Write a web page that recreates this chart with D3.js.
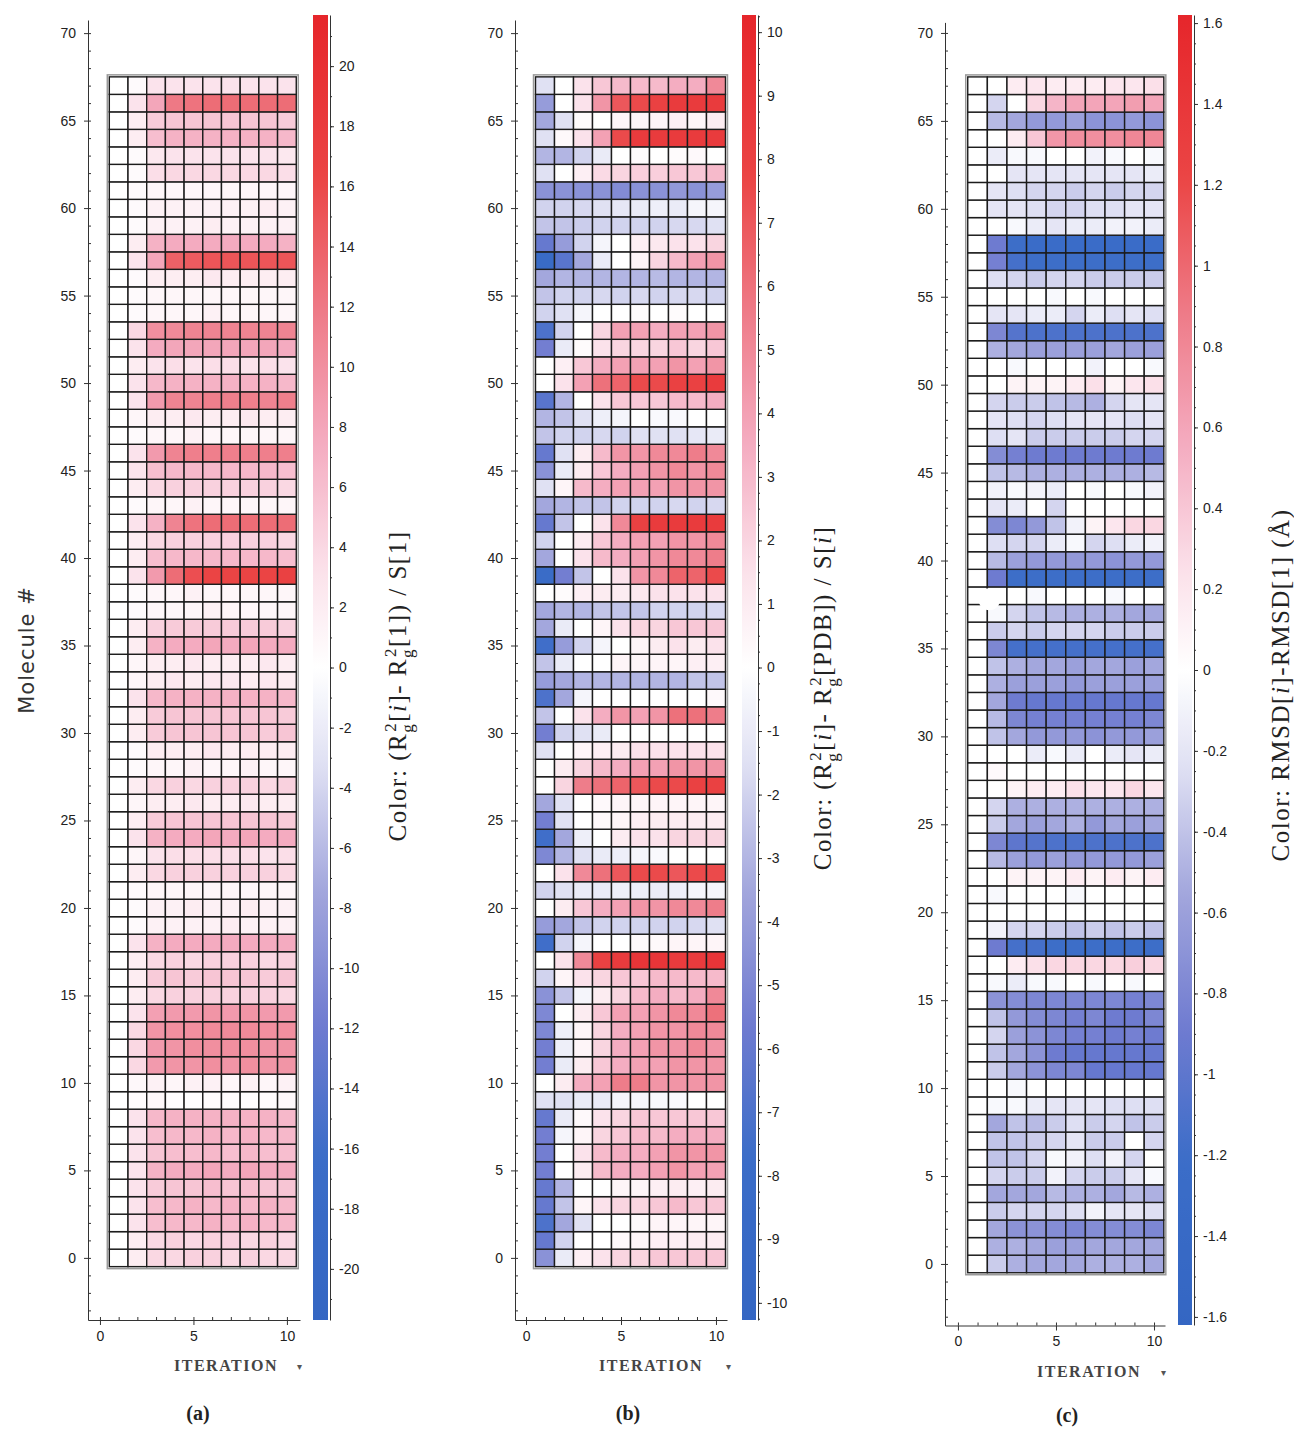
<!DOCTYPE html>
<html>
<head>
<meta charset="utf-8">
<script src="https://cdn.jsdelivr.net/npm/d3@7"></script>
<style>
body { margin: 0; background: #fff; }
svg text { fill: #222; }
.tick text { font-family: "Liberation Sans Narrow", "Liberation Sans", Arial, sans-serif; font-size: 14px; fill: #222; }
.domain, .tick line { stroke: #333; }
</style>
</head>
<body>
<svg id="chart" width="1294" height="1429"></svg>
<script>
// categories
var iterations = [1, 2, 3, 4, 5, 6, 7, 8, 9, 10];
var molecules = d3.range(0, 68);

// tick labels
var moleculeTicks = [0, 5, 10, 15, 20, 25, 30, 35, 40, 45, 50, 55, 60, 65, 70];
var iterationTicks = [0, 5, 10];
var rgSelfTicks = [-20, -18, -16, -14, -12, -10, -8, -6, -4, -2, 0, 2, 4, 6, 8, 10, 12, 14, 16, 18, 20];
var rgPdbTicks = [-10, -9, -8, -7, -6, -5, -4, -3, -2, -1, 0, 1, 2, 3, 4, 5, 6, 7, 8, 9, 10];
var rmsdTicks = [-1.6, -1.4, -1.2, -1, -0.8, -0.6, -0.4, -0.2, 0, 0.2, 0.4, 0.6, 0.8, 1, 1.2, 1.4, 1.6];

// (a) (Rg^2[i] - Rg^2[1]) / S[1], one row per molecule 0..67, columns = iteration 1..10
var rgSelf = [
  [0, 2, 4, 4, 4.5, 4.5, 4, 4.5, 4, 4],
  [0, 2, 4, 4.5, 4, 4.5, 4.5, 4, 4.5, 4],
  [0, 3, 6, 6.5, 6.5, 7, 6.5, 7, 6.5, 6.5],
  [0, 3, 6, 6.5, 7, 6.5, 7, 6.5, 7, 6.5],
  [0, 3, 5, 5.5, 5.5, 6, 5.5, 6, 5.5, 5.5],
  [0, 3, 7, 7.5, 7.5, 8, 7.5, 8, 7.5, 7.5],
  [0, 3, 5.5, 6, 6, 6.5, 6, 6.5, 6, 6],
  [0, 3, 6, 6.5, 6.5, 7, 6.5, 7, 6.5, 6.5],
  [0, 3, 6.5, 7, 7, 7, 7, 7, 7, 6.5],
  [0, 0.3, 0.8, 0.2, 0.2, 0.3, 0.3, 0.2, 0.3, 0.8],
  [0, 0.8, 1.5, 1, 1.5, 1.5, 1, 1.5, 1, 1.5],
  [0, 4, 9, 9.5, 9.5, 10, 9.5, 10, 9.5, 9.5],
  [0, 4, 9, 9.5, 10, 10, 10, 10, 9.5, 9.5],
  [0, 4, 9.5, 10, 10, 10.5, 10.5, 10.5, 10, 10],
  [0, 3, 8.5, 9, 9, 9.5, 9, 9.5, 9, 9],
  [0, 2, 4, 4.5, 4.5, 4.5, 4.5, 4.5, 4.5, 4],
  [0, 2, 5, 5.5, 5, 5.5, 5.5, 5.5, 5, 5.5],
  [0, 2, 4, 4.5, 4, 4.5, 4.5, 4.5, 4, 4.5],
  [0, 3, 7, 7.5, 7.5, 7.5, 7.5, 7.5, 7.5, 7.5],
  [0, 0.5, 1.5, 1.5, 1.5, 1.5, 2, 1.5, 1.5, 1.5],
  [0, 0.5, 1.5, 1.5, 2, 1.5, 1.5, 2, 1.5, 1.5],
  [0, 0.5, 1, 1, 1, 1, 1, 1, 1, 1],
  [0, 2, 4, 4.5, 4.5, 4.5, 4.5, 4.5, 4.5, 4],
  [0, 1, 3, 3.5, 3.5, 3.5, 3.5, 3.5, 3, 3.5],
  [0, 3, 7, 7.5, 7.5, 8, 7.5, 8, 7.5, 7.5],
  [0, 2, 5, 5.5, 5.5, 5.5, 5.5, 5.5, 5.5, 5],
  [0, 1, 2, 2, 2.5, 2, 2, 2.5, 2, 2],
  [0, 2, 4, 4.5, 4, 4.5, 4.5, 4.5, 4, 4.5],
  [0, 0.5, 1, 1, 1.5, 1, 1, 1.5, 1, 1],
  [0, 0.5, 2, 2, 2, 2.5, 2, 2, 2, 2],
  [0, 2, 5, 5.5, 5.5, 5.5, 5.5, 5.5, 5, 5.5],
  [0, 2, 5, 5.5, 5.5, 5.5, 5.5, 5.5, 5.5, 5],
  [0, 3, 6.5, 7, 7, 7, 7, 7, 7, 6.5],
  [0, 1, 2, 2.5, 2, 2.5, 2.5, 2, 2.5, 2],
  [0, 1, 2, 2, 2.5, 2, 2, 2, 2.5, 2],
  [0, 2, 7, 7.5, 7.5, 8, 7.5, 8, 7.5, 7.5],
  [0, 2, 4.5, 5, 5, 5, 5, 5, 5, 4.5],
  [0, 0.5, 1, 1, 1, 1.5, 1, 1, 1, 1],
  [0, 0.5, 1, 1, 1.5, 1, 1, 1, 1, 1],
  [0, 3, 9, 13, 15.5, 16.5, 16.5, 16.5, 16.5, 17],
  [0, 2, 6, 6.5, 6.5, 6.5, 6.5, 6.5, 6.5, 6],
  [0, 2, 4, 4.5, 4.5, 4.5, 4.5, 4.5, 4.5, 4],
  [0, 3, 7, 11, 12.5, 13, 13, 13, 13, 13],
  [0, 0.5, 1, 1, 1.5, 1, 1, 1, 1, 1],
  [0, 2, 4, 4.5, 4.5, 4.5, 4.5, 4.5, 4.5, 4],
  [0, 3, 6, 6.5, 6.5, 6.5, 6.5, 6.5, 6.5, 6],
  [0, 3, 9, 11, 11.5, 11.5, 11.5, 11.5, 11.5, 11.5],
  [0, 0.5, 1, 1, 1.5, 1, 1, 1, 1, 1],
  [0, 1, 2, 2, 2.5, 2, 2, 2.5, 2, 2],
  [0, 3, 9, 11, 11, 11.5, 11.5, 11.5, 11, 11.5],
  [0, 3, 6.5, 7, 7, 7, 7, 7, 7, 6.5],
  [0, 2, 3, 3.5, 3, 3.5, 3.5, 3, 3.5, 3],
  [0, 3, 7.5, 8, 8, 8, 8, 8, 8, 7.5],
  [0, 4, 10, 10.5, 11, 11, 11, 11, 11, 11],
  [0, 0.5, 1, 1, 1, 1.5, 1, 1, 1, 1],
  [0, 0.5, 1, 1, 1, 1, 1, 1, 1, 1],
  [0, 0.5, 2, 2, 2, 2.5, 2, 2, 2, 2],
  [0, 3, 8, 14, 14.5, 15, 15, 15, 15, 15],
  [0, 2, 7, 7.5, 7.5, 7.5, 7.5, 7.5, 7.5, 7],
  [0, 0.5, 1.5, 1.5, 1.5, 2, 1.5, 1.5, 1.5, 1.5],
  [0, 0.5, 1.5, 1.5, 1.5, 1.5, 1.5, 1.5, 2, 1.5],
  [0, 0.5, 1, 1, 1, 1, 1, 1, 1, 1],
  [0, 0.5, 3.5, 4, 4, 4, 4, 4, 4, 3.5],
  [0, 0.5, 2.5, 3, 3, 3, 3, 3, 3, 2.5],
  [0, 2, 6, 7, 7, 7, 7, 7, 7, 6.5],
  [0, 2, 5, 5.5, 5.5, 5.5, 5.5, 5.5, 5.5, 5],
  [0, 3, 8, 12, 12.5, 13, 13, 13, 13, 13],
  [0, 0.5, 3, 3, 3, 3, 3, 3, 3, 3]
];

// (b) (Rg^2[i] - Rg^2[PDB]) / S[i]
var rgPdb = [
  [-4.5, -1, 0.8, 1.5, 2, 2, 2.5, 2.5, 2.5, 2.5],
  [-6, -2, 0, 0, 0.3, 0.5, 0.8, 0.8, 1, 1],
  [-7, -3.5, -1.5, 0, 0, 0.3, 0.5, 0.5, 0.5, 0.5],
  [-6, -2.5, 0.5, 1.5, 2, 2, 2.5, 3, 2.5, 2.5],
  [-6, -3, 0, 0, 0.5, 0.5, 0.8, 1, 0.8, 1],
  [-5.5, 0, 1, 3, 3.5, 3.5, 4, 4.5, 4, 4],
  [-5.5, 0, 1.5, 3, 3.5, 3.5, 4, 4.5, 4.5, 4.5],
  [-5.5, -0.5, 0.5, 2, 2.5, 3, 3, 3.5, 3.5, 3.5],
  [-6, -1, 0.3, 1.5, 2, 2.5, 2.5, 2.5, 2.5, 2.5],
  [-1.5, -1.5, -1, -1, -0.5, -0.5, -0.3, -0.3, 0, 0],
  [0, 1, 3.5, 4, 5.5, 5.5, 4.5, 4.5, 4.5, 4.5],
  [-5.5, -1, 1, 2.5, 3.5, 4, 4, 4.5, 4.5, 4.5],
  [-5.5, -0.8, 0.5, 2, 3.5, 4, 4.5, 4.5, 5, 4.5],
  [-5, -0.8, 0.5, 2, 3.5, 4, 4.5, 4.5, 5, 5],
  [-5, 0, 1, 2.5, 4, 4, 4.5, 5, 5, 6],
  [-4.5, -2.5, -0.5, 1, 2, 3, 3.5, 3, 3.5, 5],
  [-2, 0.5, 1.5, 2, 2.5, 2.5, 3, 3, 3, 3],
  [0, 1.5, 5, 8, 8.5, 9, 9, 8.5, 8.5, 9],
  [-7.5, -2, -0.5, 0, 0, 0.3, 0.3, 0.5, 0.5, 0.5],
  [-4, -3.5, -2.5, -2, -2, -2, -2, -2, -1.8, -1.5],
  [0, 1, 2.5, 3.5, 4, 4.5, 4.5, 5, 5, 5.5],
  [-2, -1.5, -1, -1, -0.8, -0.8, -1, -0.8, -0.5, -0.5],
  [0, 1.5, 5, 6, 7, 7.5, 7.5, 7, 7.5, 7.5],
  [-5, -3, -1.5, -1, -0.8, -0.5, -0.3, 0, 0, 0],
  [-7.5, -3.5, -0.8, 0, 1, 1.5, 1.5, 2, 2, 2],
  [-5.5, -1.5, 0, 0.3, 0.5, 0.8, 1, 1, 1, 1],
  [-3.5, -1.5, 0, 0.3, 0.5, 0.5, 0.5, 0.5, 0.5, 0.5],
  [0, 2, 5.5, 6, 6.5, 7, 7.5, 7.5, 8, 8],
  [0, 1, 2, 3, 3.5, 4, 4, 4.5, 4.5, 4.5],
  [-1.5, 0, 0.5, 0.8, 1, 1.5, 1.5, 1.5, 1.5, 1.5],
  [-5.5, -2, -1.5, -1, 0, 0, 0, 0, 0, 0],
  [-2.5, 0, 1.5, 3.5, 4.5, 4, 4.5, 6, 6, 5.5],
  [-7, -3.5, -0.5, 0, 0, 0, 0, 0, 0, 0.3],
  [-4, -3.5, -3, -3, -3, -3, -3, -3, -2.5, -2.5],
  [-2.5, -1, 0, 0, 0.5, 0.5, 0.5, 0.5, 0.8, 0.8],
  [-7.5, -4, -2, -0.5, 0, 0.5, 1, 1.5, 1, 1.5],
  [-3.5, -1, 0, 0.5, 1.5, 2, 2, 2.5, 2.5, 2.5],
  [-3.5, -3, -3, -2.5, -2.5, -2.5, -2, -2, -2, -1.8],
  [0, 0.2, 0.8, 1, 1, 1.2, 1.5, 1.5, 1.5, 1.5],
  [-8, -5.5, -2.5, 0, 1.5, 4.5, 5, 6.5, 6.5, 7.5],
  [-3.5, 0, 1.5, 3, 3.5, 4, 4.5, 5, 5, 5.5],
  [-2, 0, 1, 2.5, 3.5, 4, 4, 4.5, 4.5, 5],
  [-6, -2.5, 0, 1.5, 5, 8, 8.5, 8.5, 8.5, 8.5],
  [-3.5, -3, -2.5, -2.5, -2, -2, -2, -1.8, -2, -1.8],
  [-1.5, 0.5, 3, 3.5, 4, 4, 4, 4.5, 4.5, 4.5],
  [-4.5, -1, 1, 2.5, 3.5, 4, 4.5, 5, 4.5, 5],
  [-6, -1.5, 1, 3, 4.5, 4.5, 5, 5, 5.5, 5],
  [-2.5, -2, -2, -1.8, -2, -1.5, -1.5, -1.5, -1.2, -1],
  [-3, -2.5, -1.5, -0.8, -0.5, 0, -0.3, -0.3, 0, 0],
  [-6.5, -3, 0, 1.5, 2.5, 2.5, 2.5, 3, 3, 3.5],
  [0, 1.5, 4, 6, 6.5, 7.5, 7.5, 8, 8, 8.5],
  [0, 0.8, 2.5, 3.5, 4, 4, 4, 4.5, 4, 4.5],
  [-5.5, -1, 0.2, 1.5, 2, 2, 2, 2.5, 2, 2.5],
  [-7, -2, 0, 2, 4, 4, 3.5, 4, 4, 4.5],
  [-2, -1.5, -0.5, 0, 0, 0.2, 0, 0.2, 0, 0],
  [-2.5, -2, -2, -1.8, -2, -1.8, -2, -1.8, -1.8, -2],
  [-3.5, -3, -3, -3, -3, -3, -2.8, -3, -3, -3],
  [-8.5, -6.5, -3.5, -1, 0, 0.5, 2, 3, 4, 4.5],
  [-6, -4, -2, -0.5, 0, 0.8, 1.2, 1.5, 1.5, 2],
  [-2.5, -2.5, -2.2, -2, -2, -2, -2, -1.8, -1.8, -1.5],
  [-2, -2, -1.8, -1.5, -1.2, -1, -0.8, -1, -0.5, -0.5],
  [-4.5, -4.5, -4.5, -4.5, -4.8, -4.5, -4.5, -4.2, -4.5, -4],
  [-1.5, 0, 0.8, 1.8, 2, 2.2, 2.2, 2.5, 2.5, 3],
  [-3, -3, -2, -1, 0, 0.2, 0, 0.2, 0.3, 0],
  [-1.5, 0.3, 1.5, 4, 7.5, 8.5, 8.5, 8.5, 8.5, 8.5],
  [-3.5, -1.5, 0.2, 0, 0.5, 0.5, 0.5, 0.8, 0.5, 1],
  [-4, 0, 1.5, 4.5, 7, 7.5, 8, 8.5, 8.5, 8.5],
  [-1.5, 0, 1.5, 2.5, 3, 3, 3, 3.5, 3.5, 5]
];

// (c) RMSD[i] - RMSD[1] (Angstrom)
var rmsdDiff = [
  [0, -0.35, -0.5, -0.55, -0.55, -0.55, -0.5, -0.5, -0.5, -0.55],
  [0, -0.5, -0.5, -0.55, -0.6, -0.6, -0.55, -0.55, -0.55, -0.55],
  [0, -0.55, -0.7, -0.7, -0.75, -0.8, -0.75, -0.75, -0.75, -0.8],
  [0, -0.35, -0.3, -0.3, -0.3, -0.25, -0.1, -0.2, -0.2, -0.25],
  [0, -0.55, -0.55, -0.55, -0.45, -0.5, -0.5, -0.55, -0.45, -0.5],
  [0, -0.3, -0.35, -0.35, -0.1, -0.3, -0.35, -0.35, -0.2, -0.05],
  [0, -0.4, -0.4, -0.3, -0.05, -0.1, -0.25, -0.1, -0.3, 0],
  [0, -0.4, -0.4, -0.35, -0.3, -0.2, -0.35, -0.35, 0, -0.3],
  [0, -0.55, -0.4, -0.45, -0.35, -0.25, -0.35, -0.3, -0.4, -0.35],
  [0, -0.05, -0.05, -0.15, -0.2, -0.2, -0.2, -0.25, -0.25, -0.25],
  [0, 0, -0.05, 0, 0, 0, 0, 0, 0, 0],
  [0, -0.35, -0.55, -0.7, -0.8, -0.8, -0.95, -0.95, -0.95, -0.95],
  [0, -0.4, -0.55, -0.7, -0.9, -0.95, -0.95, -0.95, -0.95, -0.95],
  [0, -0.3, -0.6, -0.7, -0.8, -0.85, -0.85, -0.9, -0.85, -0.9],
  [0, -0.4, -0.65, -0.75, -0.8, -0.85, -0.8, -0.9, -0.9, -0.8],
  [0, -0.7, -0.75, -0.8, -0.8, -0.8, -0.8, -0.8, -0.85, -0.8],
  [0, -0.05, -0.15, -0.05, -0.05, 0, -0.05, 0, -0.05, 0],
  [0, 0, 0.15, 0.25, 0.3, 0.3, 0.3, 0.3, 0.35, 0.3],
  [0, -0.9, -1.15, -1.15, -1.2, -1.2, -1.2, -1.2, -1.2, -1.2],
  [0, -0.1, -0.3, -0.3, -0.35, -0.4, -0.35, -0.4, -0.35, -0.4],
  [0, 0, 0, 0, 0, 0, 0, 0, 0, 0],
  [0, -0.05, 0, 0, 0, -0.05, 0, 0, 0, 0],
  [0, 0, 0.1, 0.1, 0.1, 0.15, 0.1, 0.15, 0.1, 0.15],
  [0, -0.45, -0.6, -0.65, -0.6, -0.65, -0.65, -0.65, -0.65, -0.6],
  [0, -0.8, -1.0, -1.05, -1.1, -1.1, -1.1, -1.1, -1.1, -1.1],
  [0, -0.35, -0.55, -0.6, -0.55, -0.5, -0.65, -0.55, -0.6, -0.55],
  [0, -0.3, -0.5, -0.5, -0.5, -0.5, -0.5, -0.5, -0.5, -0.5],
  [0, 0, 0.1, 0.15, 0.15, 0.25, 0.2, 0.2, 0.3, 0.2],
  [0, 0.05, 0, 0, 0, 0, 0, 0, 0, 0],
  [0, 0, 0, -0.15, -0.05, -0.15, 0, -0.15, -0.2, -0.15],
  [0, -0.4, -0.55, -0.65, -0.65, -0.65, -0.7, -0.65, -0.65, -0.6],
  [0, -0.45, -0.8, -0.85, -0.85, -0.85, -0.85, -0.85, -0.85, -0.8],
  [0, -0.55, -0.9, -0.95, -0.95, -0.95, -0.95, -0.95, -0.95, -0.95],
  [0, -0.5, -0.6, -0.6, -0.6, -0.65, -0.6, -0.6, -0.6, -0.6],
  [0, -0.4, -0.5, -0.55, -0.55, -0.6, -0.55, -0.55, -0.6, -0.55],
  [0, -0.8, -1.15, -1.15, -1.15, -1.15, -1.15, -1.15, -1.15, -1.15],
  [0, -0.35, -0.3, -0.35, -0.3, -0.3, -0.3, -0.35, -0.35, -0.35],
  [0, -0.05, -0.3, -0.4, -0.45, -0.5, -0.5, -0.5, -0.55, -0.55],
  [0, 0, 0, -0.05, 0, 0, 0, -0.05, 0, 0],
  [0, -0.9, -1.2, -1.2, -1.2, -1.2, -1.2, -1.2, -1.2, -1.2],
  [0, -0.45, -0.6, -0.65, -0.65, -0.65, -0.65, -0.7, -0.65, -0.65],
  [0, -0.25, -0.3, -0.3, -0.15, -0.05, -0.3, -0.25, -0.15, -0.1],
  [0, -0.75, -0.8, -0.65, -0.4, -0.1, 0.1, 0.2, 0.3, 0.3],
  [0, -0.2, -0.15, 0, -0.3, 0, 0, 0, 0, 0],
  [0, -0.1, -0.05, -0.1, -0.15, 0, -0.05, 0, -0.05, -0.1],
  [0, -0.4, -0.45, -0.5, -0.5, -0.5, -0.5, -0.5, -0.5, -0.45],
  [0, -0.75, -0.85, -0.9, -0.9, -0.9, -0.9, -0.9, -0.9, -0.9],
  [0, -0.25, -0.2, -0.35, -0.35, -0.35, -0.35, -0.35, -0.3, -0.3],
  [0, -0.2, -0.25, -0.3, -0.25, -0.2, -0.2, -0.2, -0.25, -0.2],
  [0, -0.3, -0.35, -0.35, -0.4, -0.45, -0.5, -0.3, -0.2, -0.2],
  [0, 0, 0.1, 0.1, 0.1, 0.15, 0.25, 0.1, 0.2, 0.25],
  [0, 0, -0.05, 0, 0, 0, -0.1, 0, 0, -0.05],
  [0, -0.5, -0.55, -0.6, -0.6, -0.6, -0.6, -0.55, -0.6, -0.6],
  [0, -0.8, -1.05, -1.1, -1.1, -1.1, -1.1, -1.1, -1.1, -1.1],
  [0, -0.2, -0.2, -0.15, -0.15, -0.3, -0.15, -0.25, -0.2, -0.25],
  [0, 0, 0, 0, -0.05, 0, -0.05, 0, 0, 0],
  [0, -0.25, -0.3, -0.35, -0.3, -0.3, -0.35, -0.35, -0.35, -0.35],
  [0, -0.85, -1.15, -1.2, -1.2, -1.2, -1.2, -1.2, -1.2, -1.2],
  [0, -0.9, -1.2, -1.25, -1.25, -1.25, -1.25, -1.25, -1.25, -1.25],
  [0, 0, -0.05, -0.15, -0.2, -0.15, -0.15, -0.1, -0.1, -0.15],
  [0, -0.2, -0.2, -0.25, -0.3, -0.3, -0.25, -0.25, -0.2, -0.2],
  [0, -0.2, -0.25, -0.3, -0.3, -0.35, -0.3, -0.35, -0.3, -0.3],
  [0, 0, -0.2, -0.2, -0.2, -0.2, -0.2, -0.2, -0.2, -0.15],
  [0, -0.15, -0.05, -0.05, 0, 0, -0.1, -0.05, 0, -0.05],
  [0, 0, 0.15, 0.4, 0.7, 0.75, 0.75, 0.75, 0.8, 0.8],
  [0, -0.45, -0.55, -0.65, -0.65, -0.6, -0.7, -0.7, -0.65, -0.7],
  [0, -0.3, 0, 0.3, 0.5, 0.6, 0.6, 0.6, 0.65, 0.6],
  [0, 0, 0.15, 0.2, 0.15, 0.15, 0.15, 0.2, 0.2, 0.25]
];

// selection marker seen in panel (c)
var selIteration = [1.6];
var selMolecule = [37.8];

// diverging palette, stops as fraction of the colour range
var stopT = [0, 0.15, 0.35, 0.55, 0.75, 1];
var redStops = ["#ffffff", "#fbe1ea", "#f4aabf", "#ee7a86", "#eb4545", "#e6262b"];
var blueStops = ["#ffffff", "#dfe0f3", "#a0a4dc", "#6f7bd0", "#3b6dc8", "#3466c3"];

function makeColor(max) {
  var pos = d3.scaleLinear().domain(stopT.map(function(t) { return t * max; })).range(redStops).clamp(true);
  var neg = d3.scaleLinear().domain(stopT.map(function(t) { return -t * max; })).range(blueStops).clamp(true);
  return function(v) { return v >= 0 ? pos(v) : neg(v); };
}

var svg = d3.select("#chart");
svg.append("rect").attr("width", 1294).attr("height", 1429).attr("fill", "#fff");
var defs = svg.append("defs");

var serif = "'Liberation Serif', 'DejaVu Serif', Times, serif";

var panels = [
  { id: "a", values: rgSelf, cmax: 21.7, cTicks: rgSelfTicks, cMinor: 1,
    x0: 88, x1: 300, xd: [-0.64, 10.7], y0: 1320, y1: 20, yd: [-3.55, 70.75],
    cbX: 313, cbW: 15, cbY0: 1320, cbY1: 15,
    titleX: 406, titleY: 686, title: ["Color:  (R", "g", "2", "[", "i", "]- R", "g", "2", "[1]) / S[1]"],
    iterX: 226, iterY: 1371, arrowX: 299, capX: 198, capY: 1420 },
  { id: "b", values: rgPdb, cmax: 10.27, cTicks: rgPdbTicks, cMinor: 0.25,
    x0: 515, x1: 727, xd: [-0.58, 10.58], y0: 1320, y1: 20, yd: [-3.55, 70.75],
    cbX: 742, cbW: 14, cbY0: 1320, cbY1: 15,
    titleX: 831, titleY: 698, title: ["Color:  (R", "g", "2", "[", "i", "]- R", "g", "2", "[PDB]) / S[", "i", "]"],
    iterX: 651, iterY: 1371, arrowX: 728, capX: 628, capY: 1420 },
  { id: "c", values: rmsdDiff, cmax: 1.62, cTicks: rmsdTicks, cMinor: 0.05,
    x0: 945, x1: 1165, xd: [-0.66, 10.56], y0: 1325.5, y1: 22.4, yd: [-3.5, 70.6],
    cbX: 1178, cbW: 14, cbY0: 1325, cbY1: 15,
    titleX: 1289, titleY: 685, title: ["Color:  RMSD[", "i", "]-RMSD[1]  (\u00c5)"],
    iterX: 1089, iterY: 1377, arrowX: 1163, capX: 1067, capY: 1422 }
];

panels.forEach(function(p) {
  var x = d3.scaleLinear().domain(p.xd).range([p.x0, p.x1]);
  var y = d3.scaleLinear().domain(p.yd).range([p.y0, p.y1]);
  var color = makeColor(p.cmax);
  var g = svg.append("g").attr("class", "panel-" + p.id);

  // cells
  var cells = [];
  molecules.forEach(function(m) {
    iterations.forEach(function(it, k) {
      cells.push({ m: m, it: it, v: p.values[m][k] });
    });
  });
  g.append("rect")
      .attr("x", x(0.5) - 2).attr("y", y(67.5) - 2)
      .attr("width", x(10.5) - x(0.5) + 4).attr("height", y(-0.5) - y(67.5) + 4)
      .attr("fill", "none").attr("stroke", "#9a9a9a").attr("stroke-width", 1.5);
  g.append("g").selectAll("rect")
      .data(cells)
    .enter().append("rect")
      .attr("x", function(d) { return x(d.it - 0.5); })
      .attr("y", function(d) { return y(d.m + 0.5); })
      .attr("width", function(d) { return x(d.it + 0.5) - x(d.it - 0.5); })
      .attr("height", function(d) { return y(d.m - 0.5) - y(d.m + 0.5); })
      .attr("fill", function(d) { return color(d.v); })
      .attr("stroke", "#1c1c1c")
      .attr("stroke-width", 1.4);

  if (p.id === "c") {
    g.selectAll("circle.sel")
        .data(selIteration)
      .enter().append("circle")
        .attr("class", "sel")
        .attr("cx", function(d) { return x(d); })
        .attr("cy", function(d, i) { return y(selMolecule[i]); })
        .attr("r", 11)
        .attr("fill", "#fff");
  }

  // y axis
  g.append("g").attr("transform", "translate(" + p.x0 + ",0)")
      .call(d3.axisLeft(y).tickValues(moleculeTicks).tickSize(4).tickPadding(8).tickSizeOuter(0));
  g.append("g").attr("transform", "translate(" + p.x0 + ",0)")
      .call(d3.axisRight(y).tickValues(d3.range(-3, 71)).tickSize(3).tickFormat("").tickSizeOuter(0))
      .select(".domain").remove();

  // x axis
  g.append("g").attr("transform", "translate(0," + p.y0 + ")")
      .call(d3.axisBottom(x).tickValues(iterationTicks).tickSize(5).tickPadding(6).tickSizeOuter(0));
  g.append("g").attr("transform", "translate(0," + p.y0 + ")")
      .call(d3.axisTop(x).tickValues(d3.range(0, 11)).tickSize(3).tickFormat("").tickSizeOuter(0))
      .select(".domain").remove();

  // colour bar
  var gradId = "grad-" + p.id;
  var grad = defs.append("linearGradient").attr("id", gradId)
      .attr("x1", 0).attr("x2", 0).attr("y1", 1).attr("y2", 0);
  d3.range(0, 1.0001, 0.01).forEach(function(t) {
    grad.append("stop").attr("offset", t).attr("stop-color", color(-p.cmax + 2 * p.cmax * t));
  });
  g.append("rect")
      .attr("x", p.cbX).attr("y", p.cbY1)
      .attr("width", p.cbW).attr("height", p.cbY0 - p.cbY1)
      .attr("fill", "url(#" + gradId + ")");
  var cy = d3.scaleLinear().domain([-p.cmax, p.cmax]).range([p.cbY0, p.cbY1]);
  var fmt = function(d) { return String(+d.toFixed(1)); };
  g.append("g").attr("transform", "translate(" + (p.cbX + p.cbW + 2) + ",0)")
      .call(d3.axisRight(cy).tickValues(p.cTicks).tickSize(4).tickPadding(5).tickFormat(fmt).tickSizeOuter(0));
  var minor = d3.range(Math.ceil(-p.cmax / p.cMinor), Math.floor(p.cmax / p.cMinor) + 1).map(function(k) { return k * p.cMinor; });
  g.append("g").attr("transform", "translate(" + (p.cbX + p.cbW + 2) + ",0)")
      .call(d3.axisRight(cy).tickValues(minor).tickSize(2).tickFormat("").tickSizeOuter(0))
      .select(".domain").remove();

  // colour bar title, with R_g^2 written as sub- and superscripts
  var t = g.append("text")
      .attr("transform", "translate(" + p.titleX + "," + p.titleY + ") rotate(-90)")
      .attr("text-anchor", "middle")
      .style("font-family", serif)
      .style("font-size", "25px")
      .style("letter-spacing", "1.5px");
  var sub = false;
  p.title.forEach(function(s) {
    var ts = t.append("tspan").text(s);
    if (s === "g") { ts.attr("dy", 7).style("font-size", "17px"); sub = true; }
    else if (s === "2") { ts.attr("dy", -17).attr("dx", -9).style("font-size", "17px"); }
    else if (s === "i") { ts.style("font-style", "italic"); if (sub) { ts.attr("dy", 10); sub = false; } }
    else if (sub) { ts.attr("dy", 10); sub = false; }
  });

  // iteration label and caption
  g.append("text")
      .attr("x", p.iterX).attr("y", p.iterY)
      .attr("text-anchor", "middle")
      .style("font-family", serif).style("font-weight", "bold")
      .style("font-size", "16px").style("letter-spacing", "1.5px")
      .style("fill", "#444")
      .text("ITERATION");
  g.append("text")
      .attr("x", p.arrowX).attr("y", p.iterY - 1)
      .attr("text-anchor", "middle")
      .style("font-size", "10px").style("fill", "#555")
      .text("\u25be");
  g.append("text")
      .attr("x", p.capX).attr("y", p.capY)
      .attr("text-anchor", "middle")
      .style("font-family", serif).style("font-weight", "bold")
      .style("font-size", "20px")
      .text("(" + p.id + ")");
});

svg.append("text")
    .attr("transform", "translate(34,650) rotate(-90)")
    .attr("text-anchor", "middle")
    .style("font-family", "'DejaVu Sans', Verdana, sans-serif")
    .style("font-size", "21px")
    .style("letter-spacing", "1px")
    .style("fill", "#333")
    .text("Molecule #");
</script>
</body>
</html>
